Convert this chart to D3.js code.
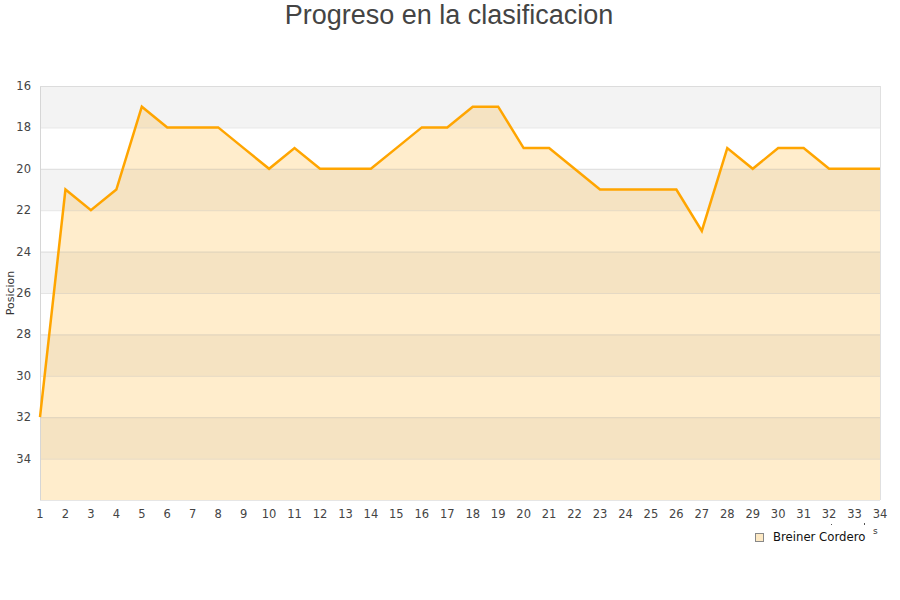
<!DOCTYPE html>
<html><head><meta charset="utf-8">
<script src="https://cdn.jsdelivr.net/npm/d3@7"></script>
<style>body{margin:0;background:#fff}svg{display:block}</style>
</head><body>
<script>
const jornadas = [1,2,3,4,5,6,7,8,9,10,11,12,13,14,15,16,17,18,19,20,21,22,23,24,25,26,27,28,29,30,31,32,33,34];
const posiciones = [32,21,22,21,17,18,18,18,19,20,19,20,20,20,19,18,18,17,17,19,19,20,21,21,21,21,23,19,20,19,19,20,20,20];
const yTicks = [16,18,20,22,24,26,28,30,32,34];
const seriesName = "Breiner Cordero";
const title = "Progreso en la clasificacion";
const yLabel = "Posicion";

const W=900,H=600, L=40,R=880,T=86,B=500;
const svg=d3.select("body").append("svg").attr("width",W).attr("height",H);
const x=d3.scaleLinear().domain([1,34]).range([L,R]);
const y=d3.scaleLinear().domain([16,36]).range([T,B]);

// bands
const bands=[];
for(let v=16; v<36; v+=2) bands.push(v);
svg.append("g").selectAll("rect").data(bands).join("rect")
  .attr("x",L).attr("width",R-L)
  .attr("y",d=>y(d)).attr("height",d=>y(d+2)-y(d))
  .attr("fill",(d,i)=> i%2===0 ? "#f3f3f3" : "#ffffff");

// area
const area=d3.area().x((d,i)=>x(jornadas[i])).y0(y(36)).y1(d=>y(d));
svg.append("path").datum(posiciones).attr("d",area).attr("fill","rgba(255,165,0,0.2)");

// grid
svg.append("g").selectAll("line").data(yTicks).join("line")
  .attr("x1",L).attr("x2",R).attr("y1",d=>y(d)+0.5).attr("y2",d=>y(d)+0.5)
  .attr("stroke","rgba(180,180,180,0.35)");
// frame
svg.append("line").attr("x1",L+0.5).attr("x2",L+0.5).attr("y1",T).attr("y2",B).attr("stroke","#d6d6d6");
svg.append("line").attr("x1",R+0.5).attr("x2",R+0.5).attr("y1",T).attr("y2",B).attr("stroke","#e0e0e0");
svg.append("line").attr("x1",L).attr("x2",R).attr("y1",T+0.5).attr("y2",T+0.5).attr("stroke","#dcdcdc");
svg.append("line").attr("x1",L).attr("x2",R).attr("y1",B+0.5).attr("y2",B+0.5).attr("stroke","#e6e6e6");

// line
const line=d3.line().x((d,i)=>x(jornadas[i])).y(d=>y(d));
svg.append("path").datum(posiciones).attr("d",line).attr("fill","none")
  .attr("stroke","#ffa500").attr("stroke-width",2.5).attr("stroke-linejoin","miter");

// axes text
const font="DejaVu Sans, sans-serif";
svg.append("g").selectAll("text").data(yTicks).join("text")
  .attr("x",31).attr("y",d=>y(d)+4).attr("text-anchor","end")
  .attr("font-family",font).attr("font-size",11.5).attr("fill","#444").text(d=>d);
svg.append("g").selectAll("text").data(jornadas).join("text")
  .attr("x",d=>x(d)).attr("y",518).attr("text-anchor","middle")
  .attr("font-family",font).attr("font-size",11.5).attr("fill","#444").text(d=>d);

svg.append("text").attr("transform","translate(14,293) rotate(-90)")
  .attr("text-anchor","middle").attr("font-family",font).attr("font-size",11).attr("fill","#333").text(yLabel);

svg.append("text").attr("x",449).attr("y",24).attr("text-anchor","middle")
  .attr("font-family","Liberation Sans, Arial, sans-serif").attr("font-size",27).attr("fill","#444").text(title);

// legend
svg.append("rect").attr("x",755.5).attr("y",533.5).attr("width",8).attr("height",8)
  .attr("fill","#fde9c4").attr("stroke","#888");
svg.append("text").attr("x",773).attr("y",541).attr("font-family",font).attr("font-size",11.7)
  .attr("fill","#111").text(seriesName);
svg.append("text").attr("x",873).attr("y",534).attr("font-family",font).attr("font-size",9)
  .attr("fill","#333").text("s");
svg.append("rect").attr("x",831).attr("y",524).attr("width",1).attr("height",1).attr("fill","#555");
svg.append("rect").attr("x",864).attr("y",523).attr("width",1).attr("height",2).attr("fill","#555");
</script>
</body></html>
